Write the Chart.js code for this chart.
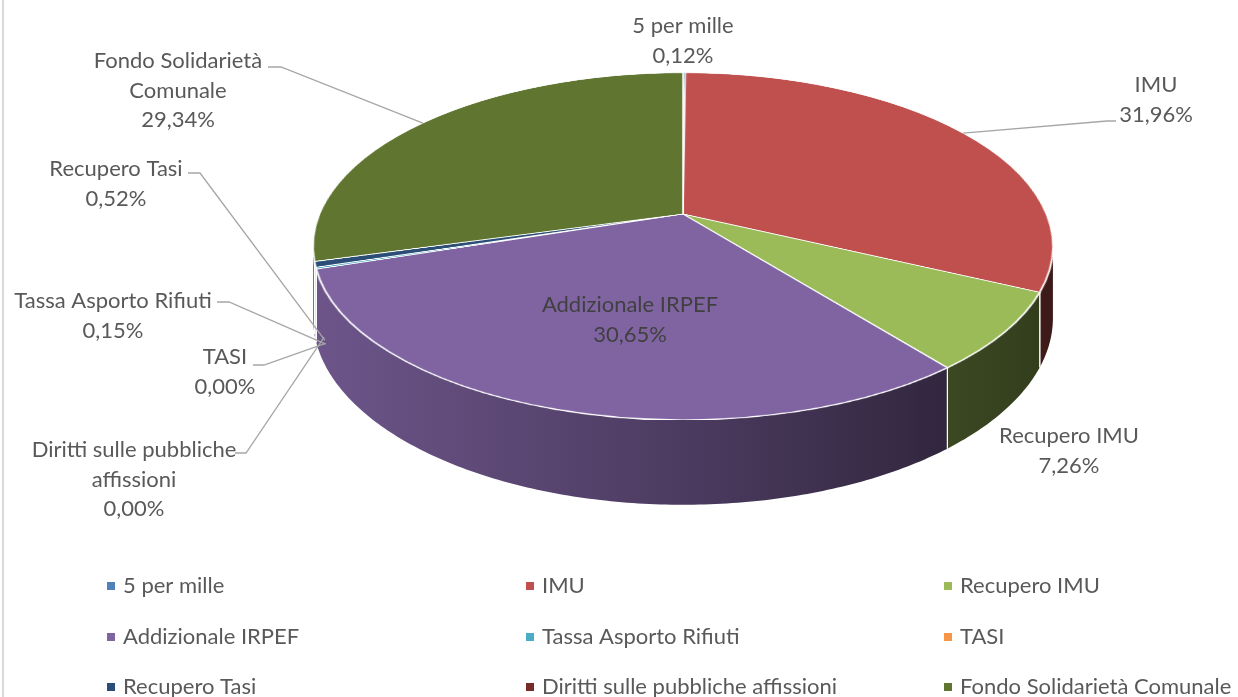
<!DOCTYPE html>
<html>
<head>
<meta charset="utf-8">
<script src="https://cdn.jsdelivr.net/npm/chart.js@4.4.1/dist/chart.umd.min.js"></script>
<style>
  html, body { margin: 0; padding: 0; background: #fff; }
  canvas { display: block; }
</style>
</head>
<body>
<canvas id="pie" width="1238" height="697" style="width:1238px;height:697px"></canvas>
<script>
// data
const categories = ['5 per mille', 'IMU', 'Recupero IMU', 'Addizionale IRPEF', 'Tassa Asporto Rifiuti',
  'TASI', 'Recupero Tasi', 'Diritti sulle pubbliche affissioni', 'Fondo Solidarietà Comunale'];
const shares = [0.12, 31.96, 7.26, 30.65, 0.15, 0.00, 0.52, 0.00, 29.34];
const sliceColors = ['#4F81BD', '#C0504D', '#9BBB59', '#8064A2', '#4BACC6', '#F79646', '#2C4D75', '#772C2A', '#5F7530'];
// how the names wrap in the data labels
const labelNames = [['5 per mille'], ['IMU'], ['Recupero IMU'], ['Addizionale IRPEF'], ['Tassa Asporto Rifiuti'],
  ['TASI'], ['Recupero Tasi'], ['Diritti sulle pubbliche', 'affissioni'], ['Fondo Solidarietà', 'Comunale']];

// layout of the data labels: centre x, y of first line; leader stub (start, elbow)
const labelPos = [[683, 26], [1156, 85], [1069, 436], [630, 305], [113, 301], [225, 357], [116, 169], [134, 450], [178, 61]];
const leaderStub = [null, [1116, 121, 1107], null, null, [217, 302, 229], [253, 365, 264], [188, 173, 200], [235, 453, 246], [268, 67, 281]];

// projection of the pie: centre, half axes, perspective, wall height
const cx = 683, cy = 214, A = 363.4, B = 167.4, k = 0.187, D = 69;
const font = '22px Lato';
const textColor = '#595959';

const pct = (v) => v.toFixed(2).replace('.', ',') + '%';

const shade = (hex, f) => {
  const n = parseInt(hex.slice(1), 16);
  const r = Math.round(((n >> 16) & 255) * f);
  const g = Math.round(((n >> 8) & 255) * f);
  const b = Math.round((n & 255) * f);
  return `rgb(${r},${g},${b})`;
};

const proj = (ang, rad, depth) => {
  const u = Math.cos(ang) * rad, v = Math.sin(ang) * rad;
  const q = 1 - k * v;
  return { x: cx + A * u / q, y: cy + (B * v + depth) / q };
};

const pie3d = {
  id: 'pie3d',
  afterDatasetsDraw(chart) {
    const ctx = chart.ctx;
    const arcs = chart.getDatasetMeta(0).data;
    const r = arcs[0].outerRadius, ox = arcs[0].x, oy = arcs[0].y;

    // keep the flat pie that Chart.js drew, then redraw it tilted
    const off = document.createElement('canvas');
    off.width = chart.canvas.width;
    off.height = chart.canvas.height;
    off.getContext('2d').drawImage(chart.canvas, 0, 0);

    ctx.save();
    ctx.setTransform(1, 0, 0, 1, 0, 0);
    ctx.clearRect(0, 0, chart.canvas.width, chart.canvas.height);

    // frame line on the left
    ctx.strokeStyle = '#d9d9d9';
    ctx.lineWidth = 2;
    ctx.beginPath();
    ctx.moveTo(3, 0);
    ctx.lineTo(3, chart.height);
    ctx.stroke();

    // side walls
    const lo = Math.asin(k), hi = Math.PI - Math.asin(k);
    const halfW = A / Math.sqrt(1 - k * k);
    arcs.forEach((arc, i) => {
      const a = Math.max(arc.startAngle, lo), b = Math.min(arc.endAngle, hi);
      if (a >= b) return;
      const steps = Math.max(4, Math.ceil((b - a) * 80));
      ctx.beginPath();
      for (let s = 0; s <= steps; s++) {
        const p = proj(a + (b - a) * s / steps, 1, 0);
        s === 0 ? ctx.moveTo(p.x, p.y) : ctx.lineTo(p.x, p.y);
      }
      for (let s = steps; s >= 0; s--) {
        const p = proj(a + (b - a) * s / steps, 1, D);
        ctx.lineTo(p.x, p.y);
      }
      ctx.closePath();
      const grad = ctx.createLinearGradient(cx - halfW, 0, cx + halfW, 0);
      grad.addColorStop(0, shade(sliceColors[i], 0.85));
      grad.addColorStop(0.5, shade(sliceColors[i], 0.59));
      grad.addColorStop(0.85, shade(sliceColors[i], 0.39));
      grad.addColorStop(1, shade(sliceColors[i], 0.32));
      ctx.fillStyle = grad;
      ctx.fill();
      // white seam between wall pieces
      ctx.strokeStyle = '#ffffff';
      ctx.lineWidth = 1.2;
      [arc.startAngle, arc.endAngle].forEach((ang) => {
        if (ang > lo && ang < hi && arc.endAngle - arc.startAngle > 0.001) {
          const p0 = proj(ang, 1, 0), p1 = proj(ang, 1, D);
          ctx.beginPath();
          ctx.moveTo(p0.x, p0.y);
          ctx.lineTo(p1.x, p1.y);
          ctx.stroke();
        }
      });
    });

    // top face: copy the flat pie row by row with perspective
    ctx.imageSmoothingEnabled = true;
    ctx.imageSmoothingQuality = 'high';
    const y0 = Math.floor(cy - B / (1 + k)) - 2, y1 = Math.ceil(cy + B / (1 - k)) + 2;
    for (let Y = y0; Y <= y1; Y++) {
      const t0 = (Y - cy) / B, t1 = (Y + 1 - cy) / B;
      let v0 = t0 / (1 + k * t0), v1 = t1 / (1 + k * t1);
      if (v1 <= -1 || v0 >= 1) continue;
      v0 = Math.max(v0, -1);
      v1 = Math.min(v1, 1);
      const vm = (v0 + v1) / 2;
      const half = A / (1 - k * vm);
      ctx.drawImage(off, ox - r, oy + v0 * r, 2 * r, (v1 - v0) * r, cx - half, Y, 2 * half, 1);
    }

    // data labels
    ctx.font = font;
    ctx.textAlign = 'center';
    ctx.textBaseline = 'middle';
    arcs.forEach((arc, i) => {
      const lines = labelNames[i].concat([pct(shares[i])]);
      const [lx, ly] = labelPos[i];
      ctx.fillStyle = i === 3 ? '#404040' : textColor;
      lines.forEach((t, j) => ctx.fillText(t, lx, ly + j * 29.5));
      const stub = leaderStub[i];
      if (stub) {
        const mid = (arc.startAngle + arc.endAngle) / 2;
        const front = Math.sin(mid) > 0;
        const anchor = front ? proj(mid, 0.975, D * 1.06) : proj(mid, 1, 0);
        ctx.strokeStyle = '#a6a6a6';
        ctx.lineWidth = 1.3;
        ctx.beginPath();
        ctx.moveTo(stub[0], stub[1]);
        ctx.lineTo(stub[2], stub[1]);
        ctx.lineTo(anchor.x, anchor.y);
        ctx.stroke();
      }
    });

    // legend, three columns
    const colX = [107, 526, 944];
    const rowY = [586, 637, 687];
    ctx.textAlign = 'left';
    categories.forEach((name, i) => {
      const x = colX[i % 3], y = rowY[Math.floor(i / 3)];
      ctx.fillStyle = sliceColors[i];
      ctx.fillRect(x, y - 4, 8, 8);
      ctx.fillStyle = textColor;
      ctx.fillText(name, x + 16, y);
    });
    ctx.restore();
  }
};

new Chart(document.getElementById('pie'), {
  type: 'pie',
  data: {
    labels: categories,
    datasets: [{
      data: shares,
      backgroundColor: sliceColors,
      borderColor: '#ffffff',
      borderWidth: 1.6
    }]
  },
  options: {
    responsive: false,
    devicePixelRatio: 1,
    animation: false,
    layout: { padding: 0 },
    plugins: {
      legend: { display: false },
      tooltip: { enabled: false }
    }
  },
  plugins: [pie3d]
});
</script>
</body>
</html>
